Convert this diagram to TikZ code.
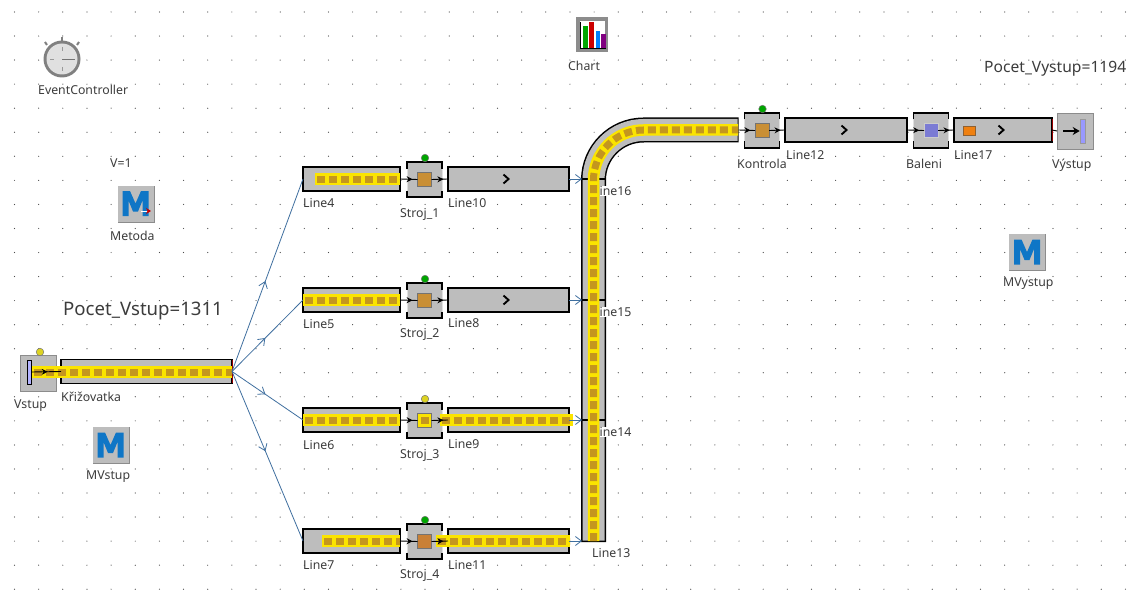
\documentclass[tikz,border=0pt]{standalone}
\usepackage{fontspec}
\setmainfont{Noto Sans}
\usetikzlibrary{arrows.meta,decorations.markings,calc}
\definecolor{cgray}{HTML}{BDBDBD}
\definecolor{cyel}{HTML}{FBE400}
\definecolor{cbrown}{HTML}{C4961E}
\definecolor{ccore}{HTML}{C98F35}
\definecolor{cblue}{HTML}{3F6F9F}
\definecolor{mblue}{HTML}{0F76C6}
\definecolor{ctxt}{HTML}{3C3C3C}
\tikzset{
  lbl/.style={font=\fontsize{12.3}{14}\selectfont,text=ctxt,inner sep=0pt,anchor=west},
  big/.style={font=\fontsize{#1}{20}\selectfont,text=ctxt,inner sep=0pt,anchor=west},
  belt/.style={draw=black,line width=1.6pt,fill=cgray,rectangle,inner sep=0pt,outer sep=0pt,minimum height=24pt,minimum width=#1},
  mbox/.style={rectangle,fill=cgray,draw=black!12,line width=.8pt,minimum width=35pt,minimum height=35pt,inner sep=0pt,outer sep=0pt},
  ibox/.style={rectangle,fill=cgray,draw=black!45,line width=.6pt,minimum width=36pt,minimum height=36pt,inner sep=0pt,outer sep=0pt},
  core/.style={rectangle,fill=#1,draw=black!55,line width=.8pt,minimum width=14pt,minimum height=14pt,inner sep=0pt,outer sep=0pt},
  brk/.style={draw=black,line width=1.8pt},
  ylw/.style={line width=11.5pt,cyel},
  brn/.style={line width=7pt,cbrown,dash pattern=on 8pt off 4pt},
  chev/.style={draw=black,line width=1.9pt},
  lamp/.style={circle,draw=black!55,line width=.5pt,fill=#1,minimum size=7.5pt,inner sep=0pt},
  flow/.style={draw=black,line width=.9pt,postaction={decorate},decoration={markings,mark=at position #1 with {\arrow{Stealth[length=6pt,width=6pt]}}}},
  link/.style={draw=cblue,line width=.8pt,postaction={decorate},decoration={markings,mark=at position #1 with {\arrow{Straight Barb[length=6pt,width=9pt]}}}},
  joinlink/.style={draw=cblue,line width=.8pt,-{Straight Barb[length=6pt,width=9pt]}},
  micon/.pic={
    \fill[black!45] (-18,-18) rectangle (19,19);
    \fill[cgray] (-18,-18) rectangle (18,18);
    \fill[mblue] (-13,12.5) -- (-13,-12.5) -- (-5.5,-12.5) -- (0,0) -- (5.5,-12.5) -- (13,-12.5) -- (13,12.5) -- (7,12.5) -- (7,-3) -- (2.5,8) -- (-2.5,8) -- (-7,-3) -- (-7,12.5) -- cycle;
  }
}
\newcommand{\machine}[5]{% name x y core colour lamp colour
  \node[mbox] (#1) at (#2,#3) {};
  \draw[brk] (#2-17.5,#3-11) -- (#2-17.5,#3-17.5) -- (#2+17.5,#3-17.5) -- (#2+17.5,#3-11);
  \draw[brk] (#2-17.5,#3+11) -- (#2-17.5,#3+17.5) -- (#2+17.5,#3+17.5) -- (#2+17.5,#3+11);
  \node[core=#4] (#1c) at (#2,#3) {};
  \node[lamp=#5] (#1l) at (#2+.5,#3-21.5) {};
}
\newcommand{\chevron}[2]{\draw[chev] (#1-2.5,#2-4.5) -- (#1+2.5,#2) -- (#1-2.5,#2+4.5);}
\newcommand{\stripe}[3]{\draw[ylw] (#1,#3) -- (#2,#3); \draw[brn] (#1+2,#3) -- (#2,#3);}
\begin{document}
\begin{tikzpicture}[x=1pt,y=-1pt]
\useasboundingbox[fill=white] (0,0) rectangle (1127,591);
% grid
\foreach \i in {0,...,46}{\foreach \j in {0,...,24}{
  \fill[black!70] ({14.5+24.15*\i},{12+24.05*\j}) circle (.6);
}}
% labels
\node[lbl] (tEC) at (38,90) {EventController};
\node[lbl] (tV) at (110,163) {V=1};
\node[lbl] (tMet) at (110,236) {Metoda};
\node[lbl] (tCh) at (568,66) {Chart};
\node[lbl] (tVs) at (14,406) {Vstup};
\node[lbl] (tKr) at (61,397) {Křižovatka};
\node[lbl] (tMV) at (86,477) {MVstup};
\node[big=18.6] (tPV) at (63,311) {Pocet\_Vstup=1311};
\node[big=15.6] (tPO) at (984,69) {Pocet\_Vystup=1194};
\node[lbl] (tL4) at (303,203) {Line4};
\node[lbl] (tS1) at (400,214) {Stroj\_1};
\node[lbl] (tL10) at (448,203) {Line10};
\node[lbl] (tL5) at (303,324) {Line5};
\node[lbl] (tS2) at (400,334) {Stroj\_2};
\node[lbl] (tL8) at (448,323) {Line8};
\node[lbl] (tL6) at (303,445) {Line6};
\node[lbl] (tS3) at (400,455) {Stroj\_3};
\node[lbl] (tL9) at (448,444) {Line9};
\node[lbl] (tL7) at (303,565) {Line7};
\node[lbl] (tS4) at (400,575) {Stroj\_4};
\node[lbl] (tL11) at (448,565) {Line11};
\node[lbl] (tL13) at (592,553) {Line13};
\node[lbl] (tKo) at (737,164) {Kontrola};
\node[lbl] (tL12) at (786,155) {Line12};
\node[lbl] (tBa) at (906,164) {Baleni};
\node[lbl] (tL17) at (954,155) {Line17};
\node[lbl] (tVy) at (1052,165) {Výstup};
\node[lbl] (tMO) at (1003,284) {MVystup};
% icons
\pic at (135.5,203.5) {micon};
\pic at (110.5,445) {micon};
\pic at (1027,252) {micon};
\draw[white,line width=1pt,-{Stealth[length=5pt,width=6pt,red!80!black]}] (141,211) -- (151,211);
% stopwatch
\draw[black!50,line width=2pt] (62,42) -- (62,37);
\draw[black!50,line width=2pt] (47,45) -- (45,42);
\draw[black!50,line width=2pt] (77,45) -- (79,42);
\fill[black!50] (62,59) circle (18.5);
\fill[black!12] (62,59) circle (15.5);
\draw[black!55,line width=.9pt] (62,59) -- (75,59);
\draw[black!40,line width=.7pt] (62,47) -- (62,51) (62,67) -- (62,71) (50,59) -- (54,59);
% chart
\fill[black!45] (576,17) rectangle (608,52);
\fill[white] (580,21) rectangle (605,49);
\fill[green!65!black] (583,26) rectangle (588,49);
\fill[red!80!black] (589,22) rectangle (594,49);
\fill[blue!50!cyan] (596,31) rectangle (600,49);
\fill[violet] (601,34) rectangle (606,49);
\draw[black,line width=1pt] (580,22) -- (580,49) -- (606,49);
% conveyors
\node[belt=171pt] (kriz) at (146.5,371.5) {};
\draw[red!60!black,line width=1pt] (232,360) -- (232,383);
\node[belt=97pt] (l4) at (351.5,179) {};
\node[belt=97pt] (l5) at (351.5,300) {};
\node[belt=97pt] (l6) at (351.5,420) {};
\node[belt=97pt] (l7) at (351.5,541) {};
\node[belt=121pt] (l10) at (508.5,179) {};
\node[belt=121pt] (l8) at (508.5,300) {};
\node[belt=121pt] (l9) at (508.5,420) {};
\node[belt=121pt] (l11) at (508.5,541) {};
\node[belt=122pt] (l12) at (846,130) {};
\node[belt=98pt] (l17) at (1003,130) {};
\draw[red!60!black,line width=1pt] (1052,119) -- (1052,141);
% long vertical + bend conveyor
\draw[black,line width=25pt] (593.5,542) -- (593.5,180) .. controls (593.5,152.4) and (615.9,130) .. (643.5,130) -- (738.5,130);
\draw[cgray,line width=22pt] (593.5,540.5) -- (593.5,180) .. controls (593.5,152.4) and (615.9,130) .. (643.5,130) -- (737.5,130);
\draw[black,line width=1.6pt] (581,179) -- (606,179) (581,300) -- (606,300) (581,420) -- (606,420);
\node[lbl,fill=white] (tL14) at (599.5,432) {ine14};
\node[lbl,fill=white] (tL15) at (599.5,312) {ine15};
\node[lbl,fill=white] (tL16) at (599.5,191) {ine16};
\coordinate (j16) at (582,179);
\coordinate (j15) at (582,300);
\coordinate (j14) at (582,420);
\coordinate (j13) at (582,541);
\chevron{506}{179}
\chevron{506}{300}
\chevron{844}{130}
\chevron{1001}{130}
\node[rectangle,fill=orange!75!brown,draw=brown!75!black,line width=1pt,minimum width=12pt,minimum height=9pt,inner sep=0pt] (part) at (969.5,131) {};
% machines
\machine{s1}{424.5}{179.5}{ccore}{green!65!black}
\machine{s2}{424.5}{300.5}{ccore}{green!65!black}
\machine{s3}{424.5}{420.5}{cyel}{yellow!85!black}
\machine{s4}{424.5}{541.5}{brown!85!orange}{green!65!black}
\machine{ko}{762}{130.5}{ccore}{green!65!black}
\node[mbox] (ba) at (931,130.5) {};
\draw[brk] (913.5,119.5) -- (913.5,113) -- (948.5,113) -- (948.5,119.5);
\draw[brk] (913.5,141.5) -- (913.5,148) -- (948.5,148) -- (948.5,141.5);
\node[core=blue!35!cgray,draw=black!20] (bac) at (931,130.5) {};
\fill[cbrown] (s3c.center) +(-4,-3.5) rectangle +(4,3.5);
% source and sink
\node[ibox] (vs) at (38,373) {};
\node[lamp=yellow!85!black] (vsl) at (40,352) {};
\node[rectangle,fill=blue!30!white,draw=black,line width=.8pt,minimum width=4pt,minimum height=24pt,inner sep=0pt] (vsb) at (29,372) {};
\node[ibox] (vy) at (1075,131) {};
\node[rectangle,fill=blue!40!white,draw=black!40,line width=.6pt,minimum width=5pt,minimum height=24pt,inner sep=0pt] (vyb) at (1082.5,131) {};
\draw[black,line width=2pt,-{Stealth[length=7pt,width=8pt]}] (1063,131) -- (vyb.west);
% stripes
\stripe{32}{232}{372}
\stripe{315}{400}{179}
\stripe{303}{400}{300}
\stripe{303}{400}{420}
\stripe{322}{400}{541}
\stripe{440}{573}{420}
\stripe{436}{570}{541}
\draw[ylw] (593.5,541) -- (593.5,180) .. controls (593.5,152.4) and (615.9,130) .. (643.5,130) -- (738,130);
\draw[brn] (593.5,541) -- (593.5,180) .. controls (593.5,152.4) and (615.9,130) .. (643.5,130) -- (738,130);
% connectors
\draw[link=.47] (kriz.east) -- (l4.west);
\draw[link=.47] (kriz.east) -- (l5.west);
\draw[link=.47] (kriz.east) -- (l6.west);
\draw[link=.47] (kriz.east) -- (l7.west);
\draw[joinlink] (l10.east) -- (j16);
\draw[joinlink] (l8.east) -- (j15);
\draw[joinlink] (l9.east) -- (j14);
\draw[joinlink] (l11.east) -- (j13);
\draw[flow=.72] (l4.east) -- (s1c.west);
\draw[flow=.72] (s1c.east) -- (l10.west);
\draw[flow=.72] (l5.east) -- (s2c.west);
\draw[flow=.72] (s2c.east) -- (l8.west);
\draw[flow=.72] (l6.east) -- (s3c.west);
\draw[flow=.72] (s3c.east) -- (l9.west);
\draw[flow=.72] (l7.east) -- (s4c.west);
\draw[flow=.72] (s4c.east) -- (l11.west);
\coordinate (bendend) at (738.5,130);
\draw[flow=.72] (bendend) -- (koc.west);
\draw[flow=.72] (koc.east) -- (l12.west);
\draw[flow=.72] (l12.east) -- (bac.west);
\draw[flow=.72] (bac.east) -- (l17.west);
\draw[flow=.55] (vsb.east) -- (kriz.west);
\draw[black,line width=.9pt] (l17.east) -- (vy.west);
\end{tikzpicture}
\end{document}
